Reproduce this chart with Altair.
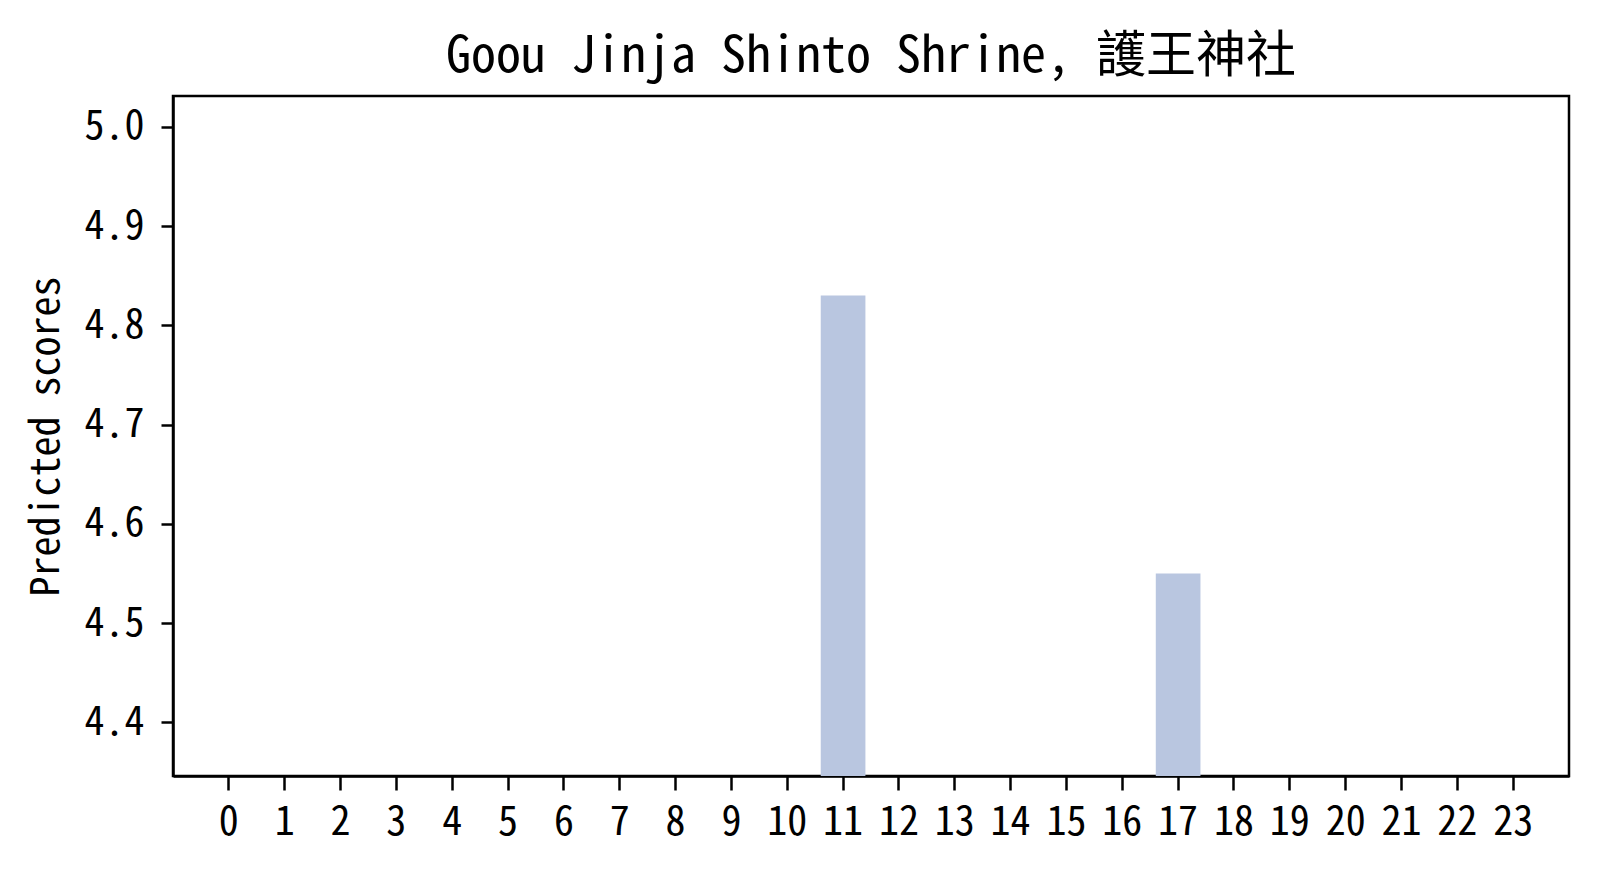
import altair as alt
import pandas as pd

hours = list(range(24))
scores = [0, 0, 0, 0, 0, 0, 0, 0, 0, 0, 0, 4.83,
          0, 0, 0, 0, 0, 4.55, 0, 0, 0, 0, 0, 0]
y_ticks = [4.4, 4.5, 4.6, 4.7, 4.8, 4.9, 5.0]
title_text = "Goou Jinja Shinto Shrine, 護王神社"
y_title = "Predicted scores"

df = pd.DataFrame({"hour": hours, "score": scores})

FONT = "Noto Sans Mono CJK SC, Noto Sans CJK SC, sans-serif"

chart = alt.Chart(df).mark_bar(color="#b9c6e0", clip=True).encode(
    x=alt.X("hour:O", sort=hours,
            scale=alt.Scale(paddingInner=0.2, paddingOuter=0.6),
            axis=alt.Axis(title=None, labelAngle=0, labelFont=FONT, labelFontSize=40,
                          labelColor="black", tickColor="black", tickWidth=2.5,
                          tickSize=14, labelPadding=12, domainColor="black",
                          domainWidth=2.5)),
    y=alt.Y("score:Q",
            scale=alt.Scale(domain=[4.346, 5.031], zero=False, nice=False),
            axis=alt.Axis(title=y_title, values=y_ticks, format=".1f",
                          labelFont=FONT, labelFontSize=40, labelColor="black",
                          tickColor="black", tickWidth=2.5, tickSize=12,
                          labelPadding=17, domainColor="black", domainWidth=2.5,
                          grid=False, titleFont=FONT, titleFontSize=40,
                          titleFontWeight="normal", titleColor="black",
                          titleAngle=270, titleX=-127, titleY=340,
                          titleAlign="center", titleBaseline="middle")),
).properties(
    width=1396,
    height=680,
    title=alt.TitleParams(title_text, font=FONT, fontSize=50, fontWeight="normal",
                          color="black", anchor="middle", baseline="alphabetic",
                          offset=25, dy=51),
    autosize=alt.AutoSizeParams(type="none"),
    padding={"left": 165, "top": 88, "right": 20, "bottom": 80},
).configure_view(
    stroke="black", strokeWidth=2.5
).configure_axis(
    grid=False
)

chart.save("out.html", embed_options={"renderer": "svg", "actions": False})
